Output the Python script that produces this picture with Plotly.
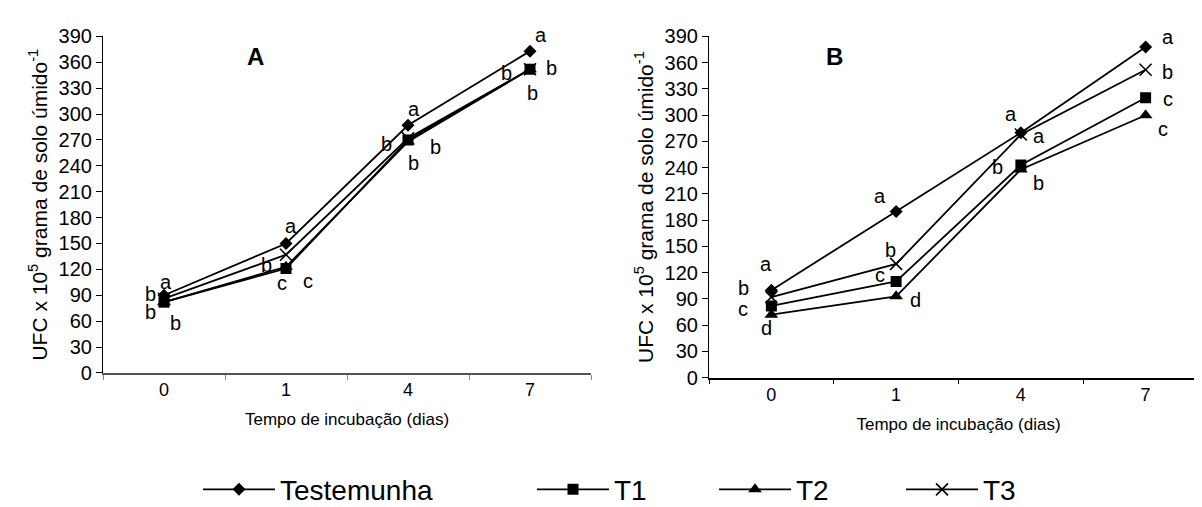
import plotly.graph_objects as go

# ---------------- data ----------------
days = ["0", "1", "4", "7"]
series_names = ["Testemunha", "T1", "T2", "T3"]

# Panel A
a_testemunha = [90, 150, 287, 373]
a_t1 = [82, 121, 270, 352]
a_t2 = [82, 123, 268, 352]
a_t3 = [86, 137, 272, 352]

# Panel B
b_testemunha = [100, 190, 280, 378]
b_t1 = [82, 110, 243, 320]
b_t2 = [72, 93, 238, 300]
b_t3 = [92, 130, 278, 352]

# significance letters
a_let_testemunha = ["a", "a", "a", "a"]
a_let_t1 = ["b", "c", "b", "b"]
a_let_t2 = ["b", "c", "b", "b"]
a_let_t3 = ["b", "b", "b", "b"]

b_let_testemunha = ["a", "a", "a", "a"]
b_let_t1 = ["c", "c", "b", "c"]
b_let_t2 = ["d", "d", "b", "c"]
b_let_t3 = ["b", "b", "a", "b"]

y_ticks = list(range(0, 391, 30))

# ---------------- styling ----------------
FONT = "Liberation Sans, Arial, sans-serif"
markers = {
    "Testemunha": dict(symbol="diamond", size=10, color="black"),
    "T1": dict(symbol="square", size=11, color="black"),
    "T2": dict(symbol="triangle-up", size=12, color="black"),
    "T3": dict(symbol="x-thin-open", size=12, color="black",
               line=dict(color="black", width=1.6)),
}
# label offsets (px) per series / point
a_off = {
    "Testemunha": [(2, 13), (5, 17), (6, 16), (11, 16)],
    "T1": [(-14, -10), (-4, -14), (5, -23), (21, 1)],
    "T2": [(11, -21), (22, -14), (27, -5), (2, -24)],
    "T3": [(-14, 5), (-20, -10), (-22, -6), (-24, -4)],
}
b_off = {
    "Testemunha": [(-5, 26), (-16, 15), (-10, 19), (22, 10)],
    "T1": [(-28, -3), (-16, 6), (-23, -2), (22, -1)],
    "T2": [(-5, -13), (19, -4), (18, -14), (17, -14)],
    "T3": [(-28, 9), (-6, 14), (18, -2), (22, -2)],
}
legend_ids = {"Testemunha": "legend", "T1": "legend2", "T2": "legend3", "T3": "legend4"}

W, H = 1202, 507
fig = go.Figure()

panels = [
    ("x", "y", dict(zip(series_names, [a_testemunha, a_t1, a_t2, a_t3])),
     dict(zip(series_names, [a_let_testemunha, a_let_t1, a_let_t2, a_let_t3])), a_off, True),
    ("x2", "y2", dict(zip(series_names, [b_testemunha, b_t1, b_t2, b_t3])),
     dict(zip(series_names, [b_let_testemunha, b_let_t1, b_let_t2, b_let_t3])), b_off, False),
]

annotations = []
for xa, ya, vals, lets, offs, show in panels:
    for name in series_names:
        fig.add_trace(go.Scatter(
            x=days, y=vals[name], name=name, mode="lines+markers",
            line=dict(color="black", width=1.8),
            marker=markers[name], xaxis=xa, yaxis=ya,
            showlegend=show, legend=legend_ids[name],
            hoverinfo="skip",
        ))
        for i, (v, t, (dx, dy)) in enumerate(zip(vals[name], lets[name], offs[name])):
            annotations.append(dict(
                x=i, y=v, xref=xa, yref=ya, text=t, showarrow=False,
                xshift=dx, yshift=dy, font=dict(family=FONT, size=20, color="black"),
            ))

annotations.append(dict(x=237 / W, y=1 - 23 / H, xref="paper", yref="paper", text="<b>A</b>",
                        showarrow=False, font=dict(family=FONT, size=24, color="black")))
annotations.append(dict(x=837 / W, y=1 - 23 / H, xref="paper", yref="paper", text="<b>B</b>",
                        showarrow=False, font=dict(family=FONT, size=24, color="black")))

ytitle = "UFC x 10<sup>5</sup> grama de solo úmido<sup>-1</sup>"
xtitle = "Tempo de incubação (dias)"

def xaxis_cfg(domain, linecolor, tickcolor):
    return dict(domain=domain, type="category", categoryorder="array", categoryarray=days,
                range=[-0.5, 3.5], tickson="boundaries", ticks="outside", ticklen=5,
                tickcolor=tickcolor, showline=True, linecolor=linecolor, linewidth=1.5,
                showgrid=False, zeroline=False,
                tickfont=dict(family=FONT, size=18, color="black"),
                title=dict(text=xtitle, font=dict(family=FONT, size=17, color="black"), standoff=14))

def yaxis_cfg(domain, anchor):
    return dict(domain=domain, range=[0, 390], tickvals=y_ticks, ticks="outside", ticklen=6,
                tickcolor="black", showline=True, linecolor="black", linewidth=1.2,
                showgrid=False, zeroline=False, anchor=anchor,
                tickfont=dict(family=FONT, size=20, color="black"),
                title=dict(text=ytitle, font=dict(family=FONT, size=21, color="black"), standoff=5))

leg_common = dict(orientation="h", yanchor="middle", y=1 - 493 / H, xanchor="left",
                  font=dict(family=FONT, size=28, color="black"), itemwidth=72,
                  bgcolor="rgba(0,0,0,0)", borderwidth=0)

fig.update_layout(
    width=W, height=H, margin=dict(l=0, r=0, t=0, b=0),
    paper_bgcolor="white", plot_bgcolor="white",
    xaxis=xaxis_cfg([95 / W, 583 / W], "#555555", "#888888"),
    yaxis=yaxis_cfg([1 - 370.7 / H, 1 - 18.3 / H], "x"),
    xaxis2=dict(xaxis_cfg([701 / W, 1200 / W], "black", "black"), anchor="y2"),
    yaxis2=yaxis_cfg([1 - 375.7 / H, 1 - 18.3 / H], "x2"),
    legend=dict(leg_common, x=190 / W),
    legend2=dict(leg_common, x=524 / W),
    legend3=dict(leg_common, x=706 / W),
    legend4=dict(leg_common, x=893 / W),
    annotations=annotations,
)
fig.update_layout(xaxis=dict(anchor="y"))

fig.write_html("out.html")
